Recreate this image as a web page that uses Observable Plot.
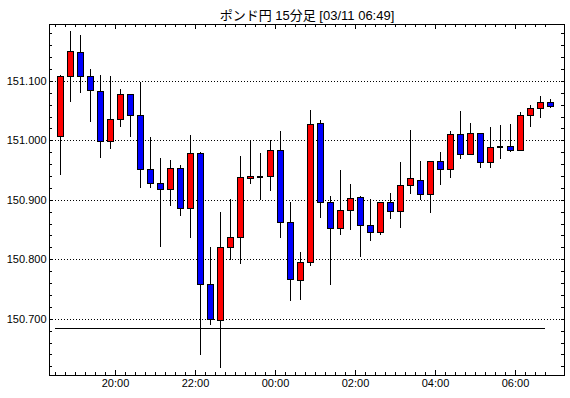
<!DOCTYPE html>
<html><head><meta charset="utf-8">
<script src="https://cdn.jsdelivr.net/npm/d3@7"></script>
<script src="https://cdn.jsdelivr.net/npm/@observablehq/plot@0.6"></script>
<style>body{margin:0;background:#fff;} #chart{width:570px;height:398px;}
#chart svg line, #chart svg rect, #chart svg path {shape-rendering: crispEdges;}</style>
</head><body><div id="chart"></div>
<script>
const title = "ポンド円 15分足 [03/11 06:49]";
const times = ["18:30","18:45","19:00","19:15","19:30","19:45","20:00","20:15","20:30","20:45",
  "21:00","21:15","21:30","21:45","22:00","22:15","22:30","22:45","23:00","23:15",
  "23:30","23:45","00:00","00:15","00:30","00:45","01:00","01:15","01:30","01:45",
  "02:00","02:15","02:30","02:45","03:00","03:15","03:30","03:45","04:00","04:15",
  "04:30","04:45","05:00","05:15","05:30","05:45","06:00","06:15","06:30","06:45"];
const open = [151.007,151.108,151.148,151.108,151.082,150.998,151.035,151.077,151.042,150.951,
  150.928,150.918,150.953,150.886,150.978,150.758,150.697,150.820,150.837,150.936,
  150.940,150.939,150.983,150.862,150.764,150.795,151.029,150.896,150.852,150.882,
  150.904,150.857,150.845,150.896,150.881,150.924,150.932,150.909,150.964,150.951,
  151.009,150.976,151.011,150.962,150.989,150.990,150.983,151.042,151.054,151.064];
const high = [151.110,151.184,151.177,151.120,151.110,151.108,151.086,151.077,151.098,151.006,
  150.970,150.967,150.959,151.009,150.980,150.821,150.879,150.901,150.974,150.998,
  150.979,151.000,151.016,150.897,150.813,151.051,151.034,150.906,150.950,150.927,
  150.906,150.901,150.897,150.912,150.964,151.017,150.966,150.964,150.981,151.016,
  151.049,151.029,151.012,151.022,151.025,151.027,151.047,151.059,151.075,151.069];
const low = [150.942,151.065,151.080,151.031,150.970,150.986,151.023,151.006,150.920,150.920,
  150.821,150.889,150.872,150.835,150.639,150.689,150.617,150.798,150.792,150.927,
  150.899,150.914,150.835,150.730,150.732,150.788,150.870,150.756,150.841,150.850,
  150.804,150.831,150.841,150.867,150.852,150.909,150.899,150.877,150.925,150.937,
  150.969,150.976,150.954,150.954,150.969,150.981,150.983,151.023,151.038,151.055];
const close = [151.108,151.150,151.108,151.084,150.998,151.035,151.077,151.042,150.951,150.928,
  150.918,150.953,150.886,150.978,150.757,150.699,150.820,150.837,150.938,150.939,
  150.940,150.983,150.862,150.766,150.795,151.027,150.895,150.852,150.882,150.903,
  150.857,150.845,150.896,150.881,150.924,150.936,150.909,150.964,150.951,151.009,
  150.976,151.011,150.962,150.988,150.989,150.983,151.042,151.054,151.064,151.057];
const gridLevels = [150.7, 150.8, 150.9, 151.0, 151.1];
const xTickLabels = ["20:00","22:00","00:00","02:00","04:00","06:00"];
const level = 150.684;

// minutes relative to 20:00 of the first day
const toMin = s => { const [h, m] = s.split(":").map(Number); return (h >= 12 ? h - 20 : h + 4) * 60 + m; };
const candles = times.map((t, i) => ({start: toMin(t), end: toMin(t) + 15, mid: toMin(t) + 7.5,
  open: open[i], high: high[i], low: low[i], close: close[i]}));
const xTicks = xTickLabels.map(toMin);

const W = 570, H = 398, mL = 49, mR = 6, mT = 24, mB = 23;
const xDomain = [-99, 673.5];
const yDomain = [150.6055, 151.1955];
const minPerPx = (xDomain[1] - xDomain[0]) / (W - mL - mR);
const valPerPx = (yDomain[1] - yDomain[0]) / (H - mT - mB);
const yMinor = d3.range(31, 60).map(k => +(150 + k * 0.02).toFixed(2));

const chart = Plot.plot({
  width: W, height: H, marginLeft: mL, marginRight: mR, marginTop: mT, marginBottom: mB,
  style: {fontFamily: "'Liberation Sans', Arial, sans-serif", fontSize: "11px", background: "#fff", color: "#000"},
  x: {domain: xDomain},
  y: {domain: yDomain},
  marks: [
    Plot.ruleY(gridLevels, {stroke: "#000", strokeDasharray: "1,2"}),
    Plot.ruleY([level], {x1: () => candles[0].start, x2: () => candles[candles.length - 1].start, stroke: "#000"}),
    Plot.ruleX(candles, {x: "mid", y1: "low", y2: "high", stroke: "#000"}),
    Plot.rect(candles.filter(d => d.close > d.open), {x1: "start", x2: "end", y1: "open", y2: "close",
      fill: "#ff0000", stroke: "#000", insetLeft: 2, insetRight: 2}),
    Plot.rect(candles.filter(d => d.close < d.open), {x1: "start", x2: "end", y1: "open", y2: "close",
      fill: "#0000ff", stroke: "#000", insetLeft: 2, insetRight: 2}),
    Plot.ruleY(candles.filter(d => d.close === d.open), {x1: "start", x2: "end", y: "open",
      insetLeft: 2, insetRight: 2, strokeWidth: 2, stroke: "#000"}),
    Plot.frame({stroke: "#000"}),
    Plot.ruleY(yMinor, {x1: () => xDomain[0], x2: () => xDomain[0] + 3 * minPerPx, stroke: "#000"}),
    Plot.ruleY(yMinor, {x1: () => xDomain[1] - 3 * minPerPx, x2: () => xDomain[1], stroke: "#000"}),
    Plot.ruleX(candles, {x: "start", y1: () => yDomain[0], y2: () => yDomain[0] + 3 * valPerPx, stroke: "#000"}),
    Plot.ruleX(candles, {x: "start", y1: () => yDomain[1] - 3 * valPerPx, y2: () => yDomain[1], stroke: "#000"}),
    Plot.ruleX(xTicks, {y1: () => yDomain[0], y2: () => yDomain[0] + 5 * valPerPx, stroke: "#000"}),
    Plot.ruleX(xTicks, {y1: () => yDomain[1] - 5 * valPerPx, y2: () => yDomain[1], stroke: "#000"}),
    Plot.axisY(gridLevels, {anchor: "left", tickSize: 0, tickPadding: 3, tickFormat: d => d.toFixed(3)}),
    Plot.axisX(xTicks, {anchor: "bottom", tickSize: 0, tickPadding: 4, tickFormat: d => xTickLabels[xTicks.indexOf(d)]}),
    Plot.text([title], {frameAnchor: "top", dy: -14, fontSize: 13, fontFamily: "'Liberation Sans', 'Noto Sans CJK JP', sans-serif", fill: "#000"})
  ]
});
document.getElementById("chart").appendChild(chart);
</script>
</body></html>
